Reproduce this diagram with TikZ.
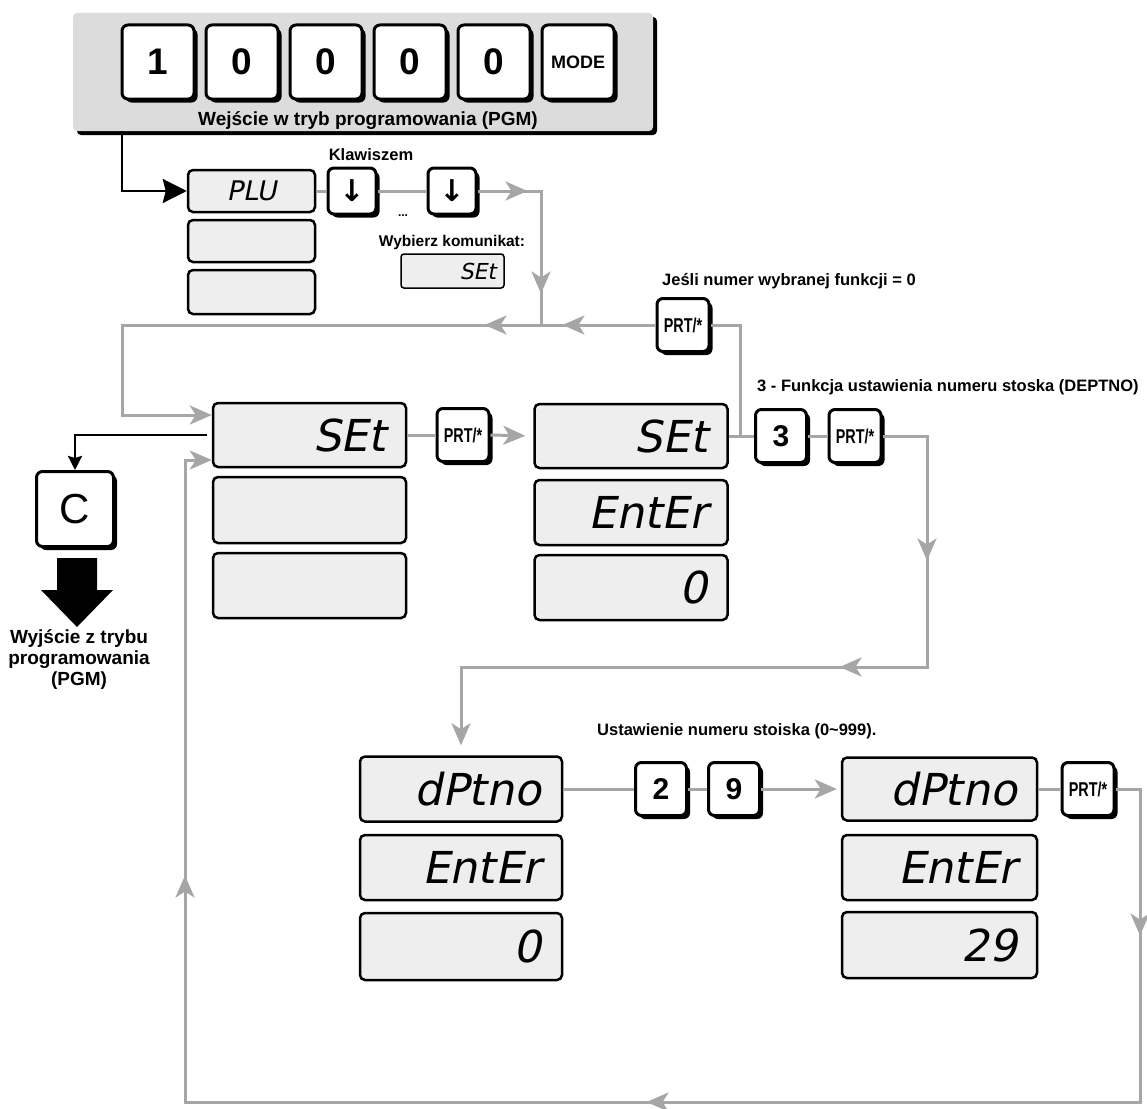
\documentclass[tikz,border=0pt]{standalone}
\usepackage{fontspec}
\setmainfont{Liberation Sans}
\newfontfamily\lcdfont{DejaVu Sans}[FakeSlant=0.2]
\newfontfamily\prtfont{Liberation Sans}[FakeStretch=0.72]
\newfontfamily\symfont{DejaVu Sans}
\usetikzlibrary{arrows.meta,decorations.markings,shadows,calc}
\definecolor{linegray}{HTML}{A6A6A6}
\definecolor{lcdfill}{HTML}{EEEEEE}
\definecolor{panelfill}{HTML}{DCDCDC}
\tikzset{
  gtip/.tip={Stealth[length=22pt,width=19pt,inset=6pt,color=linegray]},
  btip/.tip={Stealth[length=24pt,width=24pt,inset=3pt]},
  ctip/.tip={Stealth[length=14pt,width=14pt,inset=2pt]},
  gline/.style={draw=linegray,line width=3pt},
  bline/.style={draw=black,line width=2.5pt},
  keybox/.style={draw,line width=3pt,fill=white,rounded corners=6pt,inner sep=0pt,
     drop shadow={shadow xshift=3.5pt,shadow yshift=-3.5pt,fill=black,opacity=1}},
  bigkey/.style={keybox,minimum width=72pt,minimum height=74pt,font=\fontsize{37}{40}\selectfont\bfseries},
  numkey/.style={keybox,minimum width=51pt,minimum height=53pt,font=\fontsize{30}{34}\selectfont\bfseries},
  prtkey/.style={keybox,minimum width=52pt,minimum height=53pt,font=\prtfont\bfseries\fontsize{20}{24}\selectfont},
  arrkey/.style={keybox,minimum width=48pt,minimum height=46pt,font=\symfont\bfseries\fontsize{30}{32}\selectfont},
  lcd/.style={draw,line width=2.5pt,fill=lcdfill,rounded corners=5pt,inner ysep=0pt,align=right},
  lcdbig/.style={lcd,font=\lcdfont\fontsize{44}{48}\selectfont},
  lbl/.style={font=\bfseries\fontsize{#1}{#1}\selectfont,inner sep=0pt},
}
\begin{document}
\begin{tikzpicture}[x=1pt,y=-1pt]
\useasboundingbox[fill=white] (0,0) rectangle (1147,1108);

% top panel
\node[draw=none,fill=panelfill,rounded corners=4pt,minimum width=580pt,minimum height=118pt,inner sep=0pt,
  drop shadow={shadow xshift=4pt,shadow yshift=-4pt,fill=black,opacity=1}] (panel) at (363,72) {};
\node[bigkey] (t1) at (158,62) {1};
\node[bigkey] (t2) at (242,62) {0};
\node[bigkey] (t3) at (326,62) {0};
\node[bigkey] (t4) at (410,62) {0};
\node[bigkey] (t5) at (494,62) {0};
\node[bigkey,font=\fontsize{18}{20}\selectfont\bfseries] (t6) at (578,62) {MODE};
\node[lbl=19] (pgmlbl) at (368,121) {Wejście w tryb programowania (PGM)};

% PLU column
\node[lcd,font=\lcdfont\fontsize{27}{30}\selectfont,align=center,text width=127pt,inner xsep=0pt,minimum height=42pt] (plu) at (251.5,191) {PLU};
\node[lcd,text width=127pt,inner xsep=0pt,minimum height=42pt] (plub) at (251.5,241) {};
\node[lcd,text width=127pt,inner xsep=0pt,minimum height=44pt] (pluc) at (251.5,292) {};

\node[arrkey] (k1) at (352,191) {↓};
\node[arrkey] (k2) at (452,191) {↓};
\node[lbl=16.5] (klaw) at (371,155) {Klawiszem};
\node[lbl=12] (dots) at (403,216) {...};
\node[lbl=15.5] (wyb) at (452,242) {Wybierz komunikat:};
\node[lcd,font=\lcdfont\fontsize{22}{25}\selectfont,text width=87pt,inner xsep=8pt,minimum height=34pt,line width=1.5pt,rounded corners=3pt] (smallset) at (452.5,271) {SEt};

\coordinate (j1) at (541,191);
\coordinate (j2) at (541,325);
\coordinate (j3) at (122,325);
\coordinate (j4) at (122,415);

% PRT key for function 0
\node[prtkey] (prtA) at (683,325) {PRT/*};
\node[lbl=16.5,anchor=west] (jesli) at (662,281) {Jeśli numer wybranej funkcji = 0};

% set 1
\node[lcdbig,minimum height=64pt,text width=153pt,inner xsep=20pt] (s1a) at (309.5,435) {SEt};
\node[lcdbig,minimum height=66pt,text width=153pt,inner xsep=20pt] (s1b) at (309.5,510) {};
\node[lcdbig,minimum height=65pt,text width=153pt,inner xsep=20pt] (s1c) at (309.5,585.5) {};

\node[prtkey] (prtB) at (463,435) {PRT/*};

% set 2
\node[lcdbig,minimum height=64pt,text width=153pt,inner xsep=20pt] (s2a) at (631,436) {SEt};
\node[lcdbig,minimum height=65pt,text width=153pt,inner xsep=20pt] (s2b) at (631,512.5) {EntEr};
\node[lcdbig,minimum height=65pt,text width=153pt,inner xsep=20pt] (s2c) at (631,587.5) {0};

\node[numkey] (k3) at (781,436) {3};
\node[prtkey] (prtC) at (855,436) {PRT/*};
\node[lbl=16.5,anchor=west] (funk) at (757,387) {3 - Funkcja ustawienia numeru stoska (DEPTNO)};
\coordinate (j6) at (740,436);
\coordinate (j7) at (927,436);
\coordinate (j8) at (927,667);

% set 3
\node[lcdbig,minimum height=65pt,text width=160pt,inner xsep=21pt] (s3a) at (461,789) {dPtno};
\node[lcdbig,minimum height=65pt,text width=160pt,inner xsep=21pt] (s3b) at (461,867.5) {EntEr};
\node[lcdbig,minimum height=67pt,text width=160pt,inner xsep=21pt] (s3c) at (461,946.5) {0};

\node[numkey] (k2n) at (661,789) {2};
\node[numkey] (k9) at (734,789) {9};
\node[lbl=16.5,anchor=west] (ust) at (597,731) {Ustawienie numeru stoiska (0\textasciitilde999).};

% set 4
\node[lcdbig,minimum height=63pt,text width=155pt,inner xsep=20pt] (s4a) at (939.5,789) {dPtno};
\node[lcdbig,minimum height=65pt,text width=155pt,inner xsep=20pt] (s4b) at (939.5,867.5) {EntEr};
\node[lcdbig,minimum height=66pt,text width=155pt,inner xsep=20pt] (s4c) at (939.5,945) {29};

\node[prtkey] (prtD) at (1088,789) {PRT/*};
\coordinate (j10) at (1140,789);
\coordinate (j11) at (1140,1102);
\coordinate (j12) at (185,1102);
\coordinate (j13) at (185,460);

% C key and exit
\node[keybox,minimum width=77pt,minimum height=75pt,font=\fontsize{42}{46}\selectfont] (ckey) at (75,509) {C};
\node[align=center,font=\bfseries\fontsize{19}{21}\selectfont,inner sep=0pt] (wyj) at (79,659) {Wyjście z trybu\\programowania\\(PGM)};
\fill[black] (57,558) -- (97,558) -- (97,590) -- (113,590) -- (77,627) -- (41,590) -- (57,590) -- cycle;

% black connectors
\draw[bline,-{btip}] ([xshift=49pt]panel.south west) |- (plu.west);
\draw[bline,-{ctip},shorten <=5pt] (s1a.west) -| (ckey.north);

% gray connectors
\draw[gline] (plu.east) -- (k1.west);
\draw[gline] (k1.east) -- (k2.west);
\draw[gline,postaction={decorate},decoration={markings,
   mark=at position 50pt with {\arrow{gtip}},
   mark=at position 166pt with {\arrow{gtip}}}]
  (k2.east) -- (j1) -- (j2);
\draw[gline,-{gtip},postaction={decorate},decoration={markings,
   mark=at position 93pt with {\arrow{gtip}},
   mark=at position 171pt with {\arrow{gtip}}}]
  (prtA.west) -- (j2) -- (j3) -- (j4) -- (j4 -| s1a.west);
\draw[gline] (s1a.east) -- (prtB.west);
\draw[gline,-{gtip},shorten >=8pt] (prtB.east) -- (s2a.west);
\draw[gline] (s2a.east) -- (k3.west);
\draw[gline] (prtA.east) -| (j6);
\draw[gline] (k3.east) -- (prtC.west);
\draw[gline,-{gtip},shorten >=10pt,postaction={decorate},decoration={markings,
   mark=at position 169pt with {\arrow{gtip}},
   mark=at position 363pt with {\arrow{gtip}}}]
  (prtC.east) -- (j7) -- (j8) -| (s3a.north);
\draw[gline] (s3a.east) -- (k2n.west);
\draw[gline] (k2n.east) -- (k9.west);
\draw[gline,-{gtip},shorten >=4pt] (k9.east) -- (s4a.west);
\draw[gline] (s4a.east) -- (prtD.west);
\draw[gline,-{gtip},postaction={decorate},decoration={markings,
   mark=at position 171pt with {\arrow{gtip}},
   mark=at position 831pt with {\arrow{gtip}},
   mark=at position 1519pt with {\arrow{gtip}}}]
  (prtD.east) -- (j10) -- (j11) -- (j12) -- (j13) -- (j13 -| s1a.west);
\end{tikzpicture}
\end{document}
